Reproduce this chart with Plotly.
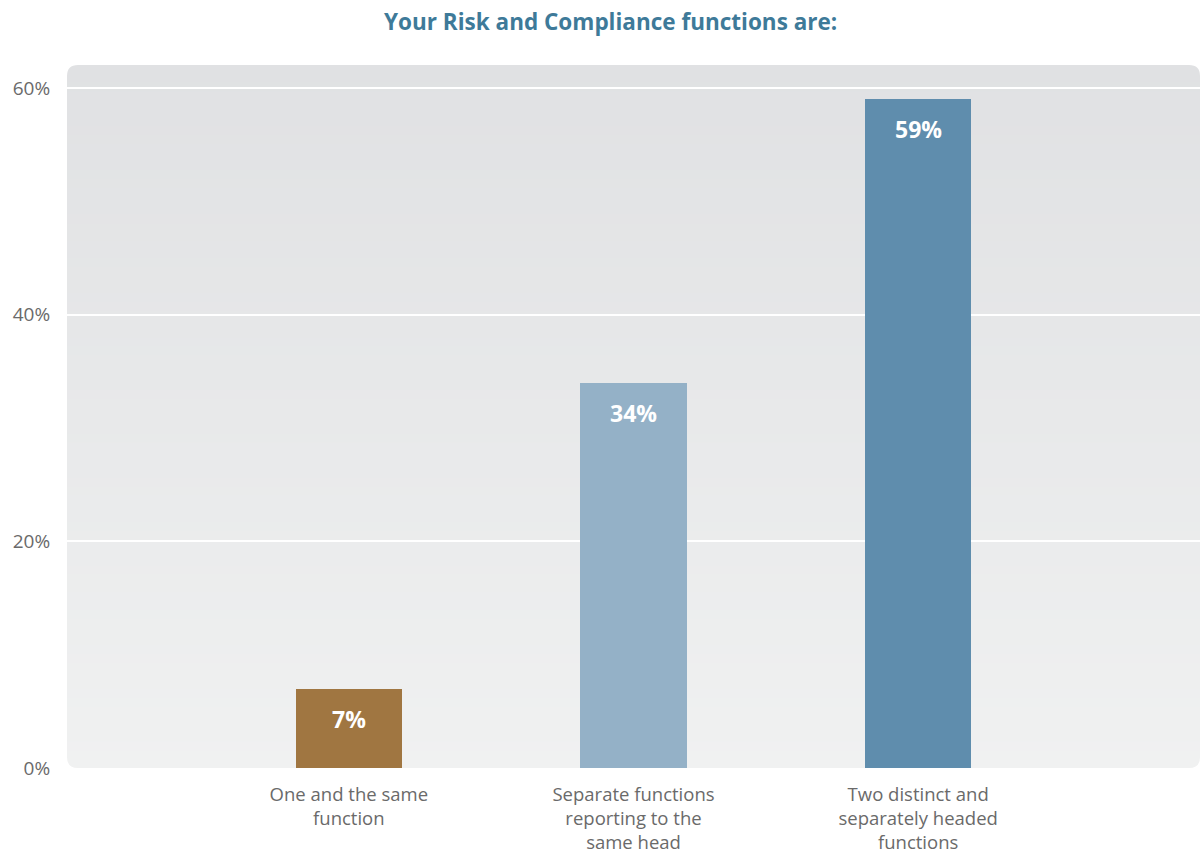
import plotly.graph_objects as go

# Survey answers and their shares (%)
categories = [
    "One and the same<br>function",
    "Separate functions<br>reporting to the<br>same head",
    "Two distinct and<br>separately headed<br>functions",
]
shares = [7, 34, 59]
bar_colors = ["#A07641", "#94B1C7", "#5F8DAD"]

y_ticks = [0, 20, 40, 60]
y_tick_labels = ["0%", "20%", "40%", "60%"]

W, H = 1202, 857
M_L, M_R, M_T, M_B = 67, 2, 65, 89
PW, PH = W - M_L - M_R, H - M_T - M_B

fig = go.Figure()
fig.add_trace(go.Bar(
    x=list(range(len(categories))),
    y=shares,
    marker=dict(color=bar_colors, line=dict(width=0)),
    width=0.373,
    hoverinfo="skip",
))

# value labels placed just inside the top of each bar
annotations = []
for i, v in enumerate(shares):
    annotations.append(dict(
        x=i, y=v, xref="x", yref="y", text=f"<b>{v}%</b>", showarrow=False,
        yshift=-30, font=dict(family="Open Sans", size=23, color="white"),
    ))

# vertical gradient for the plotting panel
def mix(c1, c2, t):
    return "#%02x%02x%02x" % tuple(round(a + (b - a) * t) for a, b in zip(c1, c2))

top_c, bot_c = (0xE0, 0xE1, 0xE3), (0xF0, 0xF1, 0xF1)
shapes = []
n = 80
for k in range(n):
    y0 = k / n
    y1 = (k + 1) / n + 0.002
    t = 1 - (k + 0.5) / n
    shapes.append(dict(type="rect", xref="paper", yref="paper", x0=0, x1=1,
                       y0=y0, y1=min(y1, 1), line=dict(width=0),
                       fillcolor=mix(top_c, bot_c, t), layer="below"))

# rounded panel corners
rx, ry = 11 / PW, 11 / PH
corners = [
    f"M 0,1 L 0,{1-ry} Q 0,1 {rx},1 Z",
    f"M 1,1 L {1-rx},1 Q 1,1 1,{1-ry} Z",
    f"M 0,0 L 0,{ry} Q 0,0 {rx},0 Z",
    f"M 1,0 L {1-rx},0 Q 1,0 1,{ry} Z",
]
for p in corners:
    shapes.append(dict(type="path", xref="paper", yref="paper", path=p,
                       fillcolor="white", line=dict(width=0), layer="below"))

fig.update_layout(
    width=W, height=H,
    margin=dict(l=M_L, r=M_R, t=M_T, b=M_B, autoexpand=False),
    paper_bgcolor="white",
    plot_bgcolor="rgba(0,0,0,0)",
    showlegend=False,
    title=dict(
        text="<b>Your Risk and Compliance functions are:</b>",
        x=0.508, xanchor="center", y=0.974, yanchor="middle",
        font=dict(family="Open Sans", size=22.5, color="#3E7A99"),
    ),
    xaxis=dict(
        range=[-0.99, 2.99],
        tickmode="array",
        tickvals=list(range(len(categories))),
        ticktext=categories,
        showgrid=False, zeroline=False, showline=False,
        ticks="outside", ticklen=10, tickcolor="rgba(0,0,0,0)",
        tickfont=dict(family="Open Sans", size=18.5, color="#6A6A6A"),
        automargin=False,
    ),
    yaxis=dict(
        range=[0, 62.03],
        tickmode="array",
        tickvals=y_ticks,
        ticktext=y_tick_labels,
        showgrid=True, gridcolor="white", gridwidth=2,
        zeroline=False, showline=False,
        ticks="outside", ticklen=12, tickcolor="rgba(0,0,0,0)",
        tickfont=dict(family="Open Sans", size=19, color="#6A6A6A"),
        automargin=False,
    ),
    annotations=annotations,
    shapes=shapes,
    bargap=0,
)

fig.write_html("out.html")
